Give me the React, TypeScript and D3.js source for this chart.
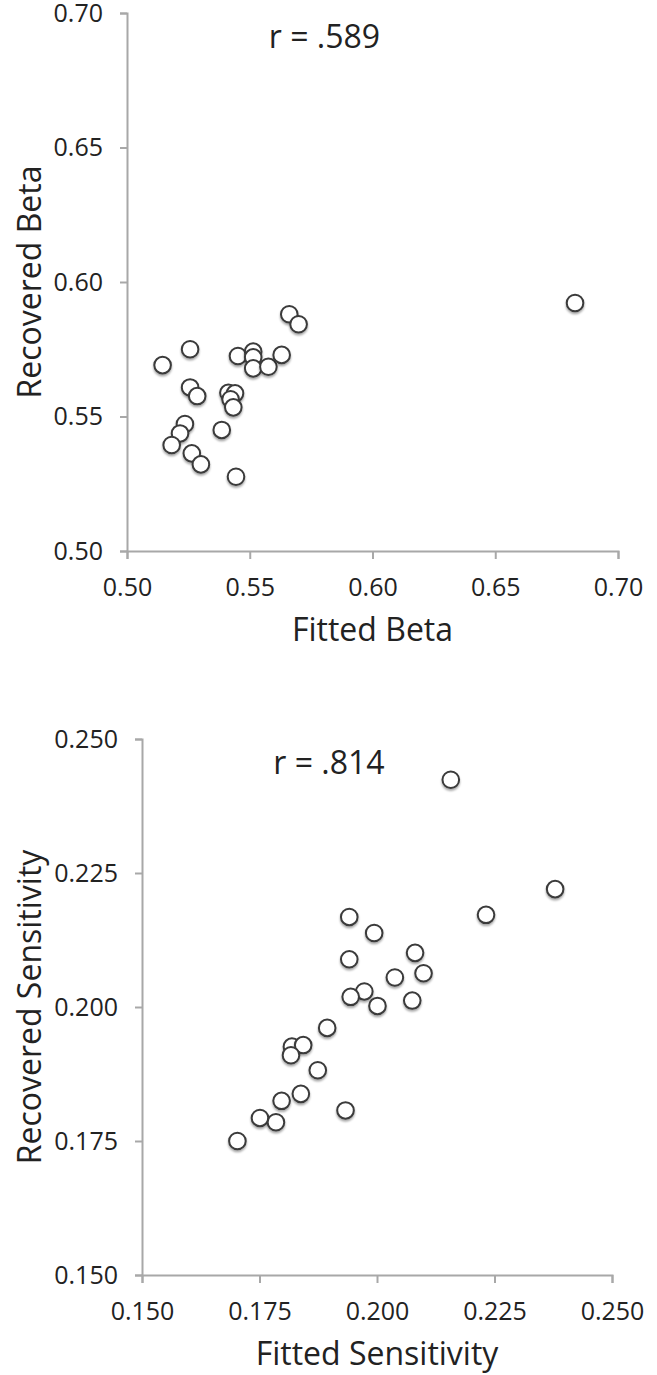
import * as d3 from "d3";
import { useEffect, useRef } from "react";

// top panel: beta
const betaFitted = [0.6825, 0.5661, 0.5699, 0.5257, 0.5145, 0.5452, 0.5514, 0.5514, 0.5514, 0.5576, 0.5630, 0.5257, 0.5286, 0.5413, 0.5440, 0.5422, 0.5433, 0.5386, 0.5236, 0.5216, 0.5182, 0.5264, 0.5301, 0.5444];
const betaRecovered = [0.5922, 0.5880, 0.5843, 0.5750, 0.5691, 0.5725, 0.5741, 0.5720, 0.5679, 0.5685, 0.5729, 0.5608, 0.5576, 0.5588, 0.5586, 0.5564, 0.5534, 0.5450, 0.5472, 0.5437, 0.5394, 0.5363, 0.5322, 0.5276];
const betaTicks = [0.5, 0.55, 0.6, 0.65, 0.7];

// bottom panel: sensitivity
const sensFitted = [0.2157, 0.2379, 0.2232, 0.1941, 0.1994, 0.2081, 0.1941, 0.2099, 0.2038, 0.1973, 0.1944, 0.2001, 0.2075, 0.1894, 0.1819, 0.1843, 0.1817, 0.1874, 0.1838, 0.1797, 0.1751, 0.1785, 0.1933, 0.1703];
const sensRecovered = [0.2424, 0.2220, 0.2172, 0.2168, 0.2138, 0.2101, 0.2089, 0.2063, 0.2055, 0.2029, 0.2019, 0.2002, 0.2012, 0.1961, 0.1926, 0.1929, 0.1910, 0.1882, 0.1838, 0.1825, 0.1793, 0.1785, 0.1807, 0.1750];
const sensTicks = [0.15, 0.175, 0.2, 0.225, 0.25];

const panels = [
    { xs: betaFitted, ys: betaRecovered, ticks: betaTicks, fmt: ".2f", r: "r = .589", xTitle: "Fitted Beta", yTitle: "Recovered Beta", left: 127, right: 618, top: 13, bottom: 551 },
    { xs: sensFitted, ys: sensRecovered, ticks: sensTicks, fmt: ".3f", r: "r = .814", xTitle: "Fitted Sensitivity", yTitle: "Recovered Sensitivity", left: 142, right: 612, top: 739, bottom: 1275 },
];

const FONT = "'Open Sans', 'Noto Sans', sans-serif";

export default function App() {
    const ref = useRef<SVGSVGElement>(null);

    useEffect(() => {
        const svg = d3.select(ref.current);
        svg.selectAll("*").remove();

        const defs = svg.append("defs");
        defs.append("filter")
            .attr("id", "shadow")
            .attr("x", "-50%").attr("y", "-50%")
            .attr("width", "200%").attr("height", "200%")
            .append("feDropShadow")
            .attr("dx", 0).attr("dy", 2)
            .attr("stdDeviation", 1.3)
            .attr("flood-color", "#000")
            .attr("flood-opacity", 0.35);

        panels.forEach(p => {
            const lo = p.ticks[0];
            const hi = p.ticks[p.ticks.length - 1];
            const x = d3.scaleLinear().domain([lo, hi]).range([p.left, p.right]);
            const y = d3.scaleLinear().domain([lo, hi]).range([p.bottom, p.top]);
            const g = svg.append("g");

            const yAxis = g.append("g")
                .attr("transform", `translate(${p.left},0)`)
                .call(d3.axisLeft(y).tickValues(p.ticks).tickFormat(d3.format(p.fmt)).tickSize(7).tickPadding(17));
            const xAxis = g.append("g")
                .attr("transform", `translate(0,${p.bottom})`)
                .call(d3.axisBottom(x).tickValues(p.ticks).tickFormat(d3.format(p.fmt)).tickSize(8).tickPadding(19));

            [yAxis, xAxis].forEach(a => {
                a.select(".domain").attr("stroke", "#a8a8a8").attr("stroke-width", 2);
                a.selectAll(".tick line").attr("stroke", "#a8a8a8").attr("stroke-width", 2);
                a.selectAll(".tick text")
                    .attr("fill", "#222")
                    .style("font-family", FONT)
                    .style("font-size", "25px");
            });
            xAxis.selectAll(".tick text").attr("dy", "0.71em");

            g.append("text")
                .attr("x", (p.left + p.right) / 2 - 48)
                .attr("y", p.top + 35)
                .attr("text-anchor", "middle")
                .attr("fill", "#222")
                .style("font-family", FONT)
                .style("font-size", "32px")
                .text(p.r);

            g.append("text")
                .attr("x", (p.left + p.right) / 2)
                .attr("y", p.bottom + 90)
                .attr("text-anchor", "middle")
                .attr("fill", "#222")
                .style("font-family", FONT)
                .style("font-size", "32px")
                .text(p.xTitle);

            g.append("text")
                .attr("transform", `translate(41,${(p.top + p.bottom) / 2}) rotate(-90)`)
                .attr("text-anchor", "middle")
                .attr("fill", "#222")
                .style("font-family", FONT)
                .style("font-size", "32px")
                .text(p.yTitle);

            g.append("g")
                .selectAll("circle")
                .data(p.xs.map((v, i) => [v, p.ys[i]]))
                .enter()
                .append("circle")
                .attr("cx", d => x(d[0]))
                .attr("cy", d => y(d[1]))
                .attr("r", 8.3)
                .attr("fill", "#fff")
                .attr("stroke", "#3a3a3a")
                .attr("stroke-width", 2)
                .attr("filter", "url(#shadow)");
        });
    }, []);

    return (
        <div style={{ position: "absolute", left: 0, top: 0 }}>
            <svg ref={ref} width={657} height={1375} style={{ display: "block", background: "#fff" }}></svg>
        </div>
    );
}
